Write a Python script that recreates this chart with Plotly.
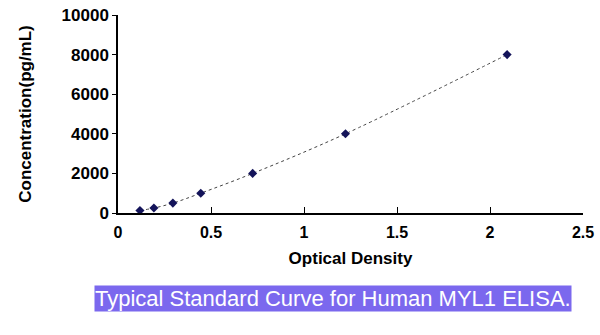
import plotly.graph_objects as go

od = [0.118, 0.193, 0.295, 0.445, 0.724, 1.223, 2.092]
conc = [125, 250, 500, 1000, 2000, 4000, 8000]
x_ticks = [0, 0.5, 1, 1.5, 2, 2.5]
x_tick_labels = ["0", "0.5", "1", "1.5", "2", "2.5"]
y_ticks = [0, 2000, 4000, 6000, 8000, 10000]
y_tick_labels = ["0", "2000", "4000", "6000", "8000", "10000"]

fig = go.Figure()
fig.add_trace(go.Scatter(
    x=od, y=conc, mode="lines+markers",
    line=dict(color="#444444", width=1, shape="spline", dash="dot"),
    marker=dict(symbol="diamond", size=7, color="#14145a"),
    showlegend=False,
))

fam = "Liberation Sans, Arial"

fig.update_layout(
    width=600, height=335,
    margin=dict(l=118, r=17, t=15, b=122),
    paper_bgcolor="white", plot_bgcolor="white",
    xaxis=dict(
        range=[0, 2.5], tickvals=x_ticks, ticktext=["<b>%s</b>" % t for t in x_tick_labels],
        showline=True, linecolor="black", linewidth=1.5, ticks="inside", ticklen=6,
        tickcolor="black", showgrid=False, zeroline=False, automargin=False,
        ticklabelstandoff=4,
        tickfont=dict(family=fam, size=16, color="black"),
        title=dict(text="<b>Optical Density</b>", font=dict(family=fam, size=17, color="black"), standoff=12),
    ),
    yaxis=dict(
        range=[0, 10000], tickvals=y_ticks, ticktext=["<b>%s</b>" % t for t in y_tick_labels],
        showline=True, linecolor="black", linewidth=1.5, ticks="outside", ticklen=4,
        tickcolor="black", showgrid=False, zeroline=False, automargin=False,
        tickfont=dict(family=fam, size=17, color="black"),
        title=dict(text="<b>Concentration(pg/mL)</b>", font=dict(family=fam, size=17, color="black"), standoff=26),
    ),
)

fig.add_annotation(
    xref="paper", yref="paper", x=(333 - 118) / 465, y=-(298 - 213) / 198,
    text="Typical Standard Curve for Human MYL1 ELISA.",
    showarrow=False, xanchor="center", yanchor="middle",
    font=dict(family=fam, size=22, color="white"),
    bgcolor="#7b68ee", borderpad=0,
)

fig.write_html("out.html")
